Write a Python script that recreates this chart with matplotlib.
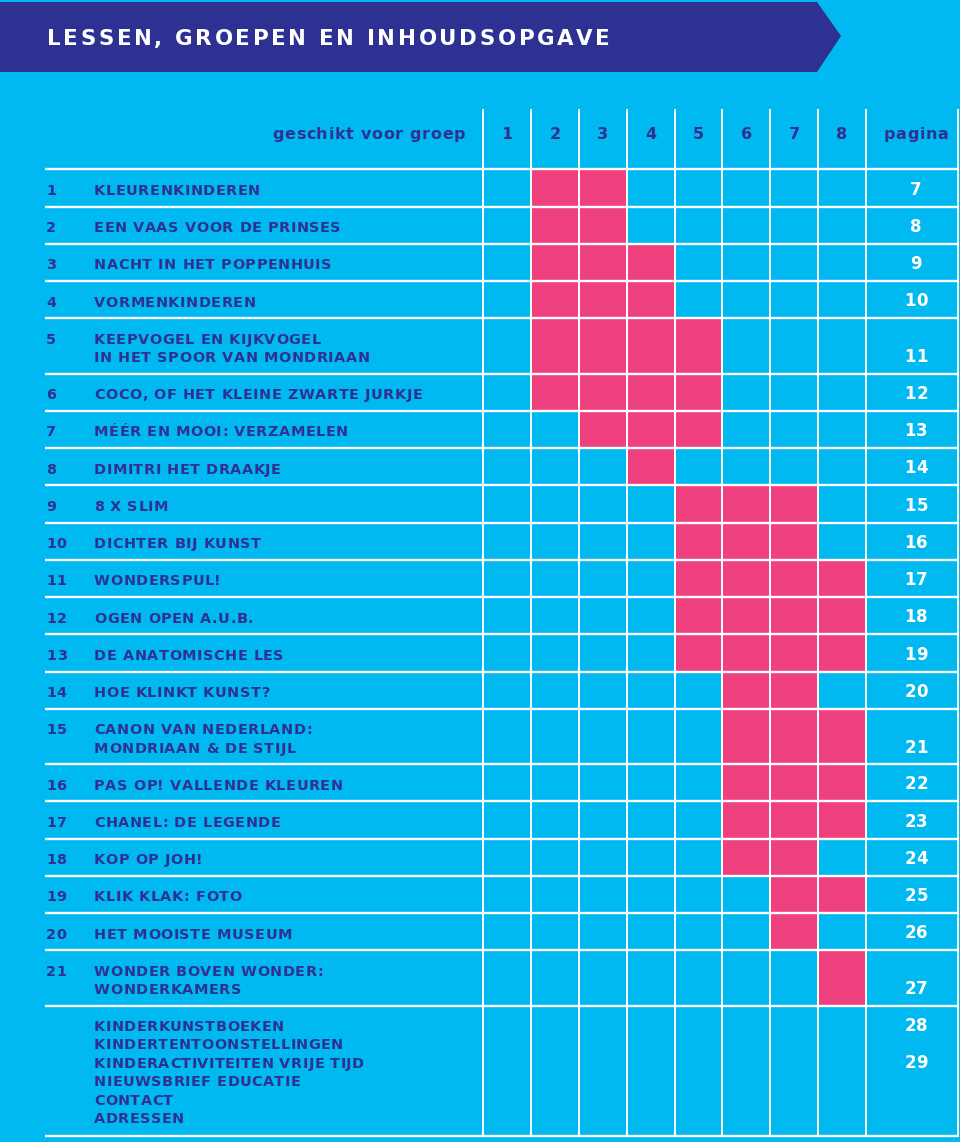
import matplotlib
matplotlib.use('Agg')
import matplotlib.pyplot as plt
from matplotlib.patches import Rectangle, Polygon
from matplotlib import font_manager
from matplotlib.ft2font import FT2Font

bg = '#00B9F1'
navy = '#2E3192'
pink = '#EE3F7F'

title = 'LESSEN, GROEPEN EN INHOUDSOPGAVE'
groups_header = ['1', '2', '3', '4', '5', '6', '7', '8']

nums = ['1', '2', '3', '4', '5', '6', '7', '8', '9', '10', '11',
        '12', '13', '14', '15', '16', '17', '18', '19', '20', '21']
lessons = ['KLEURENKINDEREN',
           'EEN VAAS VOOR DE PRINSES',
           'NACHT IN HET POPPENHUIS',
           'VORMENKINDEREN',
           'KEEPVOGEL EN KIJKVOGEL\nIN HET SPOOR VAN MONDRIAAN',
           'COCO, OF HET KLEINE ZWARTE JURKJE',
           'MÉÉR EN MOOI: VERZAMELEN',
           'DIMITRI HET DRAAKJE',
           '8 X SLIM',
           'DICHTER BIJ KUNST',
           'WONDERSPUL!',
           'OGEN OPEN A.U.B.',
           'DE ANATOMISCHE LES',
           'HOE KLINKT KUNST?',
           'CANON VAN NEDERLAND:\nMONDRIAAN & DE STIJL',
           'PAS OP! VALLENDE KLEUREN',
           'CHANEL: DE LEGENDE',
           'KOP OP JOH!',
           'KLIK KLAK: FOTO',
           'HET MOOISTE MUSEUM',
           'WONDER BOVEN WONDER:\nWONDERKAMERS']
pages = ['7', '8', '9', '10', '11', '12', '13', '14', '15', '16', '17',
         '18', '19', '20', '21', '22', '23', '24', '25', '26', '27']
# groepen (1-8) waarvoor een les geschikt is
suitable = [[2, 3], [2, 3], [2, 3, 4], [2, 3, 4], [2, 3, 4, 5], [2, 3, 4, 5],
            [3, 4, 5], [4], [5, 6, 7], [5, 6, 7], [5, 6, 7, 8], [5, 6, 7, 8],
            [5, 6, 7, 8], [6, 7], [6, 7, 8], [6, 7, 8], [6, 7, 8], [6, 7],
            [7, 8], [7], [8]]

extra_items = ['KINDERKUNSTBOEKEN', 'KINDERTENTOONSTELLINGEN',
               'KINDERACTIVITEITEN VRIJE TIJD', 'NIEUWSBRIEF EDUCATIE',
               'CONTACT', 'ADRESSEN']
extra_pages = ['28', '', '29', '', '', '']

# layout (pixels)
W, H = 960, 1142
col_x0, col_w = 483.3, 47.8
x_left, x_right = 45, 958
table_top, head_top = 169.3, 110
row_h, row_h2 = 37.25, 55.3
extra_h = 130
line_gap = 18.5

FONT = font_manager.findfont(font_manager.FontProperties(family='DejaVu Sans',
                                                         weight='bold'))


def advances(s, size):
    f = FT2Font(FONT)
    f.set_size(size, 100)
    return [f.load_char(ord(c)).linearHoriAdvance / 65536 for c in s]


def tracking_for(s, size, target):
    return (target - sum(advances(s, size))) / (len(s) - 1)


def text_width(s, size, track):
    return sum(advances(s, size)) + track * (len(s) - 1)


def spaced(ax, x, y, s, size, track, color, ha='left', zorder=3):
    # letter-spaced text: one text object per character
    w = text_width(s, size, track)
    if ha == 'center':
        x -= w / 2
    elif ha == 'right':
        x -= w
    for c, a in zip(s, advances(s, size)):
        if c != ' ':
            ax.text(x, y, c, fontsize=size, fontweight='bold', color=color,
                    ha='left', va='baseline', zorder=zorder)
        x += a + track


fig = plt.figure(figsize=(W / 100, H / 100), dpi=100)
fig.patch.set_facecolor(bg)
ax = fig.add_axes([0, 0, 1, 1])
ax.set_xlim(0, W)
ax.set_ylim(H, 0)
ax.axis('off')

# banner
ax.add_patch(Polygon([(0, 2), (817, 2), (841, 36), (817, 72), (0, 72)],
                     closed=True, facecolor=navy, edgecolor='none'))
fs_title = 15.4
spaced(ax, 47, 45, title, fs_title, tracking_for(title, fs_title, 563), 'white')

# header
fs_head = 11.5
tr_head = tracking_for('geschikt voor groep', fs_head, 193)
spaced(ax, 465, 139, 'geschikt voor groep', fs_head, tr_head, navy, ha='right')
for i, g in enumerate(groups_header):
    spaced(ax, col_x0 + (i + 0.5) * col_w, 139, g, fs_head, tr_head, navy,
           ha='center')
pag_cx = 916
spaced(ax, pag_cx, 139, 'pagina', fs_head, tr_head, navy, ha='center')

fs = 10.4
tr = tracking_for('KLEURENKINDEREN', fs, 166)
fs_pg = 12.0
tr_pg = 0.6
y = table_top
hlines = [y]
for n, les, p, s in zip(nums, lessons, pages, suitable):
    parts = les.split('\n')
    h = row_h if len(parts) == 1 else row_h2
    for g in s:
        ax.add_patch(Rectangle((col_x0 + (g - 1) * col_w, y), col_w, h,
                               facecolor=pink, edgecolor='none', zorder=1))
    spaced(ax, 46, y + 25.5, n, fs, tr, navy)
    for k, part in enumerate(parts):
        spaced(ax, 94, y + 25.5 + k * line_gap, part, fs, tr, navy)
    spaced(ax, pag_cx, y + 25.3 + (len(parts) - 1) * line_gap, p, fs_pg,
           tr_pg, 'white', ha='center')
    y += h
    hlines.append(y)

tr_ex = tracking_for('KINDERKUNSTBOEKEN', fs, 190)
for k, (item, p) in enumerate(zip(extra_items, extra_pages)):
    spaced(ax, 94, y + 25 + k * 18.5, item, fs, tr_ex, navy)
    if p:
        spaced(ax, pag_cx, y + 25 + k * 18.5, p, fs_pg, tr_pg, 'white',
               ha='center')
y += extra_h
hlines.append(y)

# grid
for yy in hlines:
    ax.plot([x_left, x_right], [yy, yy], color='white', lw=1.7, zorder=2,
            solid_capstyle='butt')
for i in range(9):
    xx = col_x0 + i * col_w
    ax.plot([xx, xx], [head_top, y], color='white', lw=1.4, zorder=2)
ax.plot([x_right, x_right], [head_top, y], color='white', lw=1.4, zorder=2)

plt.savefig('out.png', dpi=100, facecolor=bg)
